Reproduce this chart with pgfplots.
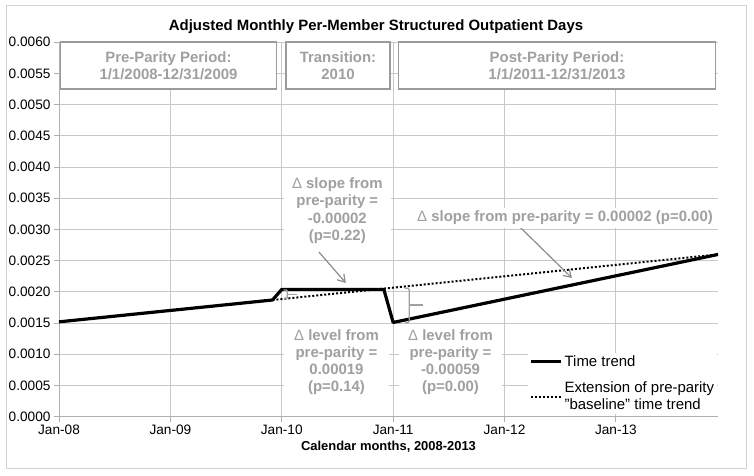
\documentclass[border=0pt]{standalone}
\usepackage{fontspec}
\setmainfont{Liberation Sans}
\usepackage{pgfplots}
\pgfplotsset{compat=1.18}
\usetikzlibrary{arrows.meta}
\definecolor{annot}{RGB}{160,160,160}
\definecolor{arrc}{RGB}{140,140,140}
\definecolor{boxc}{RGB}{155,155,155}
\definecolor{gridc}{RGB}{200,200,200}
\definecolor{axc}{RGB}{175,175,175}
\definecolor{outerc}{RGB}{210,210,210}
\begin{document}
\begin{tikzpicture}[x=1bp,y=1bp]
\useasboundingbox (0,0) rectangle (754,476);
\fill[white] (0,0) rectangle (754,476);
\draw[outerc, line width=1bp] (6.5,7) rectangle (746,470);
\begin{axis}[
  at={(59bp,59.3bp)}, anchor=south west,
  scale only axis, width=659bp, height=374.4bp,
  xmin=0, xmax=71, ymin=0, ymax=0.006,
  xtick={0,12,24,36,48,60},
  xticklabels={Jan-08,Jan-09,Jan-10,Jan-11,Jan-12,Jan-13},
  ytick={0,0.0005,0.001,0.0015,0.002,0.0025,0.003,0.0035,0.004,0.0045,0.005,0.0055,0.006},
  scaled y ticks=false,
  yticklabel style={/pgf/number format/.cd, fixed, fixed zerofill, precision=4},
  /pgf/number format/assume math mode=true,
  ticklabel style={font=\fontsize{13.7}{16}\selectfont, text=black},
  axis x line*=bottom, axis y line*=left,
  axis line style={axc, line width=1bp, -},
  tick align=outside, major tick length=5bp, tick style={axc, line width=1bp},
  grid=major, major grid style={gridc, line width=0.9bp},
  clip=false,
  legend style={at={(0.712,0.006)}, anchor=south west, draw=none, fill=white,
    font=\fontsize{15}{17}\selectfont, cells={align=left}, inner sep=1bp, row sep=10bp},
  legend cell align=left,
  legend image code/.code={\draw[#1] (0bp,0bp) -- (30bp,0bp);},
]
\addplot[black, line width=3.2bp, line join=round] coordinates {
  (0,0.00152) (23,0.00187) (24,0.00204) (35,0.00204) (36,0.00151) (71,0.00260)};
\addlegendentry{Time trend}
\addplot[black, line width=2bp, dash pattern=on 2bp off 2bp] coordinates {
  (23,0.00187) (71,0.00260)};
\addlegendentry{Extension of pre-parity\\"baseline" time trend}
\draw[arrc, line width=1.2bp, -{Straight Barb[length=7bp,width=9bp]}] (axis cs:28.0,0.00264) -- (axis cs:30.9,0.002143);
\draw[arrc, line width=1.2bp, -{Straight Barb[length=7bp,width=9bp]}] (axis cs:49.45,0.003069) -- (axis cs:55.26,0.002223);
\draw[annot, line width=1.2bp, rounded corners=1.5bp] (axis cs:37.27,0.002058) -- (axis cs:37.74,0.002058) -- (axis cs:37.74,0.001506) -- (axis cs:37.27,0.001506);
\draw[annot, line width=1.2bp] (axis cs:37.74,0.00179) -- (axis cs:39.24,0.00179);
\draw[annot, line width=1.2bp, rounded corners=1bp] (axis cs:24.2,0.00203) -- (axis cs:24.6,0.00203) -- (axis cs:24.6,0.00189) -- (axis cs:24.2,0.00189);
\draw[annot, line width=1.2bp] (axis cs:24.6,0.00196) -- (axis cs:25.6,0.00196);
\end{axis}
% title
\node[anchor=base, font=\bfseries\fontsize{15}{18}\selectfont] at (376,445.6) {Adjusted Monthly Per-Member Structured Outpatient Days};
% period boxes
\node[draw=boxc, line width=1.5bp, fill=white, minimum width=217, minimum height=47, inner sep=0, align=center, text=annot, font=\bfseries\fontsize{15}{17.3}\selectfont] at (168.5,410.5) {Pre-Parity Period:\\1/1/2008-12/31/2009};
\node[draw=boxc, line width=1.5bp, fill=white, minimum width=104, minimum height=47, inner sep=0, align=center, text=annot, font=\bfseries\fontsize{15}{17.3}\selectfont] at (338,410.5) {Transition:\\2010};
\node[draw=boxc, line width=1.5bp, fill=white, minimum width=318, minimum height=47, inner sep=0, align=center, text=annot, font=\bfseries\fontsize{15}{17.3}\selectfont] at (557,410.5) {Post-Parity Period:\\1/1/2011-12/31/2013};
% annotations
\node[fill=white, text=annot, font=\bfseries\fontsize{15}{17.6}\selectfont, align=center, minimum width=108, inner xsep=0, inner ysep=4] at (337.3,265.5) {{\mdseries Δ} slope from\\pre-parity =\\-0.00002\\(p=0.22)};
\node[fill=white, text=annot, font=\bfseries\fontsize{15}{17.6}\selectfont, inner xsep=2, inner ysep=3] at (565,258) {{\mdseries Δ} slope from pre-parity = 0.00002 (p=0.00)};
\node[fill=white, text=annot, font=\bfseries\fontsize{15}{17.3}\selectfont, align=center, minimum width=106, inner xsep=0, inner ysep=4] at (336.5,114) {{\mdseries Δ} level from\\pre-parity =\\0.00019\\(p=0.14)};
\node[fill=white, text=annot, font=\bfseries\fontsize{15}{17.3}\selectfont, align=center, minimum width=104, inner xsep=0, inner ysep=4] at (450.5,114) {{\mdseries Δ} level from\\pre-parity =\\-0.00059\\(p=0.00)};
% x label
\node[font=\bfseries\fontsize{13}{15}\selectfont] at (388.5,28.7) {Calendar months, 2008-2013};
\end{tikzpicture}
\end{document}
